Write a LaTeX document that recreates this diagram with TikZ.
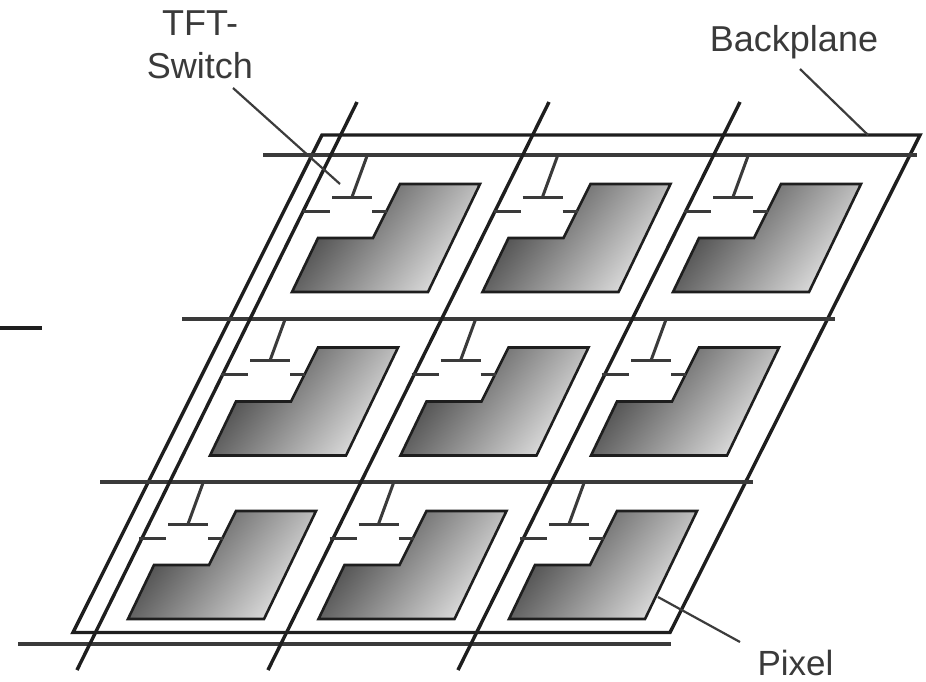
\documentclass[tikz,border=0pt]{standalone}
\usepackage{fontspec}
\setmainfont{Liberation Sans}
\definecolor{inkdark}{HTML}{1E1E1E}
\definecolor{inkgate}{HTML}{3A3A3A}
\definecolor{inkleader}{HTML}{3C3C3C}
\definecolor{inktext}{HTML}{3A3A3A}
\definecolor{pixdark}{HTML}{3C3C3C}
\definecolor{pixlight}{HTML}{E4E4E4}
\tikzset{
  plane/.style={draw=inkdark,line width=3.4pt,line join=miter},
  dataline/.style={draw=inkdark,line width=3.4pt},
  gateline/.style={draw=inkgate,line width=4.4pt},
  stub/.style={draw=inkgate,line width=3pt},
  leader/.style={draw=inkleader,line width=2.2pt},
  pixelshape/.style={draw=inkdark,line width=2.6pt,line join=miter,shading=axis,left color=pixdark,right color=pixlight,shading angle=52},
  label/.style={font=\fontsize{36}{43}\selectfont,text=inktext,inner sep=0pt}
}
\begin{document}
\begin{tikzpicture}[x=1pt,y=-1pt]
\useasboundingbox[fill=white] (0,0) rectangle (926,681);
% backplane
\coordinate (bpTL) at (322,135);
\coordinate (bpTR) at (920,135);
\coordinate (bpBR) at (670,632.5);
\coordinate (bpBL) at (73,632.5);
\path[plane] (bpTL) -- (bpTR) -- (bpBR) -- (bpBL) -- cycle;
% gate lines
\foreach \name/\yy/\xa/\xb in {g1/155/263/917, g2/319/182/835, g3/482/100/753, g4/644/18/671}{
  \coordinate (\name a) at (\xa,\yy);
  \coordinate (\name b) at (\xb,\yy);
  \path[gateline] (\name a) -- (\name b);
}
% data lines
\foreach \name/\xa/\xb in {d1/357/77, d2/549/268, d3/740/458}{
  \coordinate (\name a) at (\xa,102);
  \coordinate (\name b) at (\xb,670);
  \path[dataline] (\name a) -- (\name b);
}
% cells
\foreach \row in {0,1,2}{
  \foreach \col in {0,1,2}{
    \begin{scope}[shift={({\col*190.5-\row*82},{\row*163.5})}]
      \coordinate (p1) at (400,184);
      \coordinate (p2) at (480,184);
      \coordinate (p3) at (428,292);
      \coordinate (p4) at (292,292);
      \coordinate (p5) at (318,238);
      \coordinate (p6) at (373,238);
      \path[pixelshape] (p1) -- (p2) -- (p3) -- (p4) -- (p5) -- (p6) -- cycle;
      \coordinate (st) at (367,156);
      \coordinate (sb) at (352,197);
      \coordinate (ba) at (332,197);
      \coordinate (bb) at (372,197);
      \coordinate (sa) at (303,211);
      \coordinate (sc) at (330,211);
      \coordinate (da) at (372,211);
      \coordinate (dc) at (387,211);
      \path[stub] (st) -- (sb);
      \path[stub] (ba) -- (bb);
      \path[stub] (sa) -- (sc);
      \path[stub] (da) -- (dc);
    \end{scope}
  }
}
% stray rule at left
\coordinate (ra) at (0,328);
\coordinate (rb) at (42,328);
\path[draw=inkdark,line width=3.4pt] (ra) -- (rb);
% labels
\node[label,align=center] (tft) at (200,44.5) {TFT-\\Switch};
\node[label] (back) at (794,42) {Backplane};
\node[label,font=\fontsize{35}{42}\selectfont] (pix) at (795.5,663) {Pixel};
% leaders
\coordinate (tfta) at (233,88);
\coordinate (tftb) at (340,184);
\coordinate (backa) at (800,69);
\coordinate (backb) at (868,135);
\coordinate (pixa) at (658,597);
\coordinate (pixb) at (740,642);
\path[leader] (tfta) -- (tftb);
\path[leader] (backa) -- (backb);
\path[leader] (pixa) -- (pixb);
\end{tikzpicture}
\end{document}
